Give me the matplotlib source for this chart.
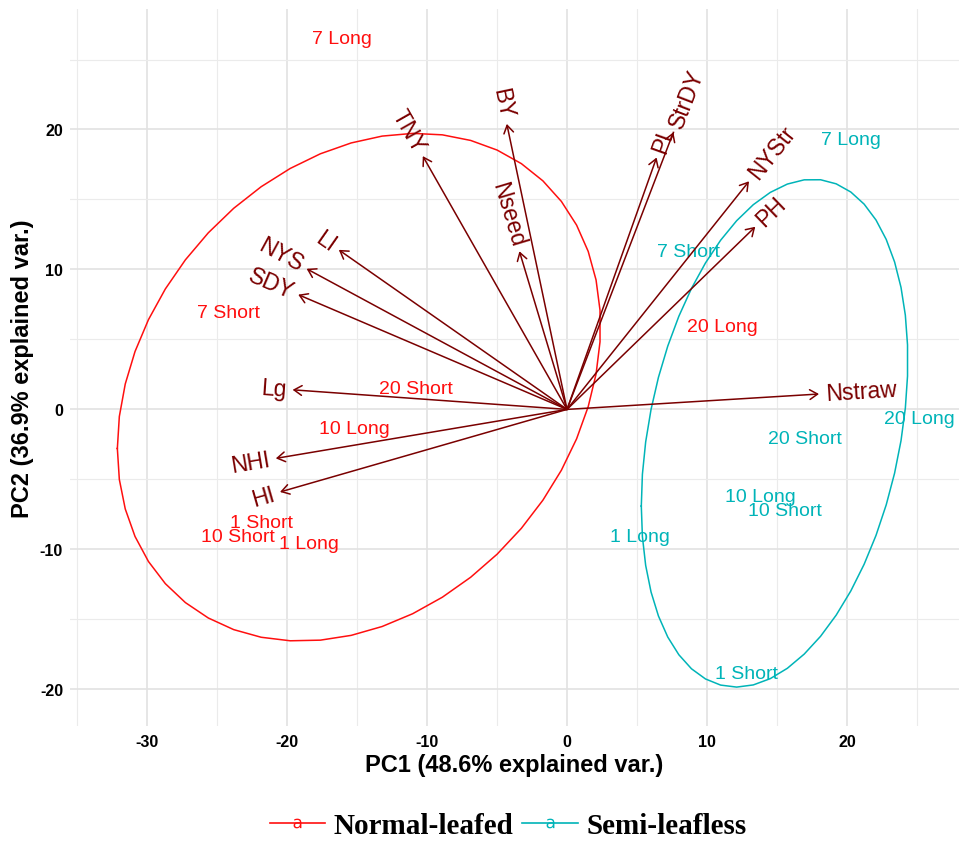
import numpy as np
import matplotlib
matplotlib.use("Agg")
import matplotlib.pyplot as plt
from matplotlib.lines import Line2D

plt.rcParams['font.family'] = ['Liberation Sans', 'DejaVu Sans']
plt.rcParams['axes.unicode_minus'] = False

# PCA scores (sample labels) per group
groups = ["Normal-leafed", "Semi-leafless"]
group_colors = ["#FF0F0F", "#00B4B8"]
sample_names = ["7 Long", "7 Short", "20 Short", "10 Long", "1 Short", "10 Short", "1 Long", "20 Long"]
normal_pc1 = [-16.1, -24.2, -10.8, -15.2, -21.8, -23.5, -18.4, 11.1]
normal_pc2 = [26.5, 6.95, 1.5, -1.4, -8.1, -9.1, -9.6, 5.95]
semi_names = ["7 Long", "7 Short", "20 Long", "20 Short", "10 Long", "10 Short", "1 Long", "1 Short"]
semi_pc1 = [20.3, 8.7, 25.2, 17.0, 13.8, 15.6, 5.2, 12.8]
semi_pc2 = [19.3, 11.25, -0.64, -2.1, -6.2, -7.2, -9.1, -18.9]

# variable loadings (arrow tips)
var_names = ["TNY", "LI", "NYS", "SDY", "Lg", "NHI", "HI", "BY", "Nseed", "PL", "StrDY", "NYStr", "PH", "Nstraw"]
var_pc1 = [-10.3, -16.3, -18.6, -19.2, -19.6, -20.8, -20.5, -4.3, -3.4, 6.4, 7.6, 13.0, 13.45, 18.0]
var_pc2 = [18.1, 11.4, 10.05, 8.2, 1.4, -3.5, -5.9, 20.4, 11.3, 18.0, 19.8, 16.3, 13.05, 1.1]

fig = plt.figure(figsize=(9.59, 8.45), dpi=100)
ax = fig.add_axes([0.073, 0.140, 0.927, 0.848])

# grid like theme_minimal
ax.set_xlim(-35.5, 28.0)
ax.set_ylim(-22.6, 28.6)
ax.set_xticks([-30, -20, -10, 0, 10, 20])
ax.set_yticks([-20, -10, 0, 10, 20])
ax.set_xticks(np.arange(-35, 30, 10), minor=True)
ax.set_yticks(np.arange(-15, 30, 10), minor=True)
ax.grid(which='major', color='#E2E2E2', lw=1.2)
ax.grid(which='minor', color='#EBEBEB', lw=0.8)
ax.set_axisbelow(True)
for s in ax.spines.values():
    s.set_visible(False)
ax.tick_params(which='both', length=0)
ax.tick_params(axis='x', pad=6)
ax.tick_params(axis='y', pad=5)
for lab in ax.get_xticklabels() + ax.get_yticklabels():
    lab.set_fontweight('bold')
    lab.set_fontsize(11.5)

# 68% normal ellipses per group (as ggbiplot)
ed = np.sqrt(-2 * np.log(1 - 0.68))
theta = np.linspace(-np.pi, np.pi, 50)
circle = np.column_stack([np.cos(theta), np.sin(theta)])
for xs, ys, col in [(normal_pc1, normal_pc2, group_colors[0]), (semi_pc1, semi_pc2, group_colors[1])]:
    pts = np.column_stack([xs, ys])
    sigma = np.cov(pts.T)
    L = np.linalg.cholesky(sigma)
    ell = circle @ L.T * ed + pts.mean(axis=0)
    ax.plot(ell[:, 0], ell[:, 1], color=col, lw=1.1)

# sample labels
for names, xs, ys, col in [(sample_names, normal_pc1, normal_pc2, group_colors[0]),
                           (semi_names, semi_pc1, semi_pc2, group_colors[1])]:
    for n, x, y in zip(names, xs, ys):
        ax.text(x, y, n, color=col, fontsize=14, ha='center', va='center')

# arrows + variable names
dark = '#7A0000'
for n, x, y in zip(var_names, var_pc1, var_pc2):
    ax.annotate('', xy=(x, y), xytext=(0, 0),
                arrowprops=dict(arrowstyle='->,head_length=0.4,head_width=0.25', color=dark,
                                lw=1.1, shrinkA=0, shrinkB=0, mutation_scale=14))
    ang = np.degrees(np.arctan(y / x))
    u = np.array([x, y]) / np.hypot(x, y)
    ax.annotate(n, xy=(x, y), xytext=(u[0] * 4.5, u[1] * 4.5), textcoords='offset points',
                rotation=ang, rotation_mode='anchor', ha='left' if x > 0 else 'right',
                va='center', color=dark, fontsize=16.5)

ax.set_xlabel('PC1 (48.6% explained var.)', fontsize=17, fontweight='bold', labelpad=3)
ax.set_ylabel('PC2 (36.9% explained var.)', fontsize=17, fontweight='bold', labelpad=4)

handles = [Line2D([0], [0], color=c, lw=1.2, marker=r'$\mathrm{a}$', markersize=7,
                  markeredgewidth=0) for c in group_colors]
fig.legend(handles, groups, loc='center', bbox_to_anchor=(0.53, 0.022), ncol=2, frameon=False,
           prop={'family': 'Liberation Serif', 'weight': 'bold', 'size': 21},
           handlelength=1.9, handletextpad=0.3, columnspacing=0.3)

fig.savefig('out.png', dpi=100)
